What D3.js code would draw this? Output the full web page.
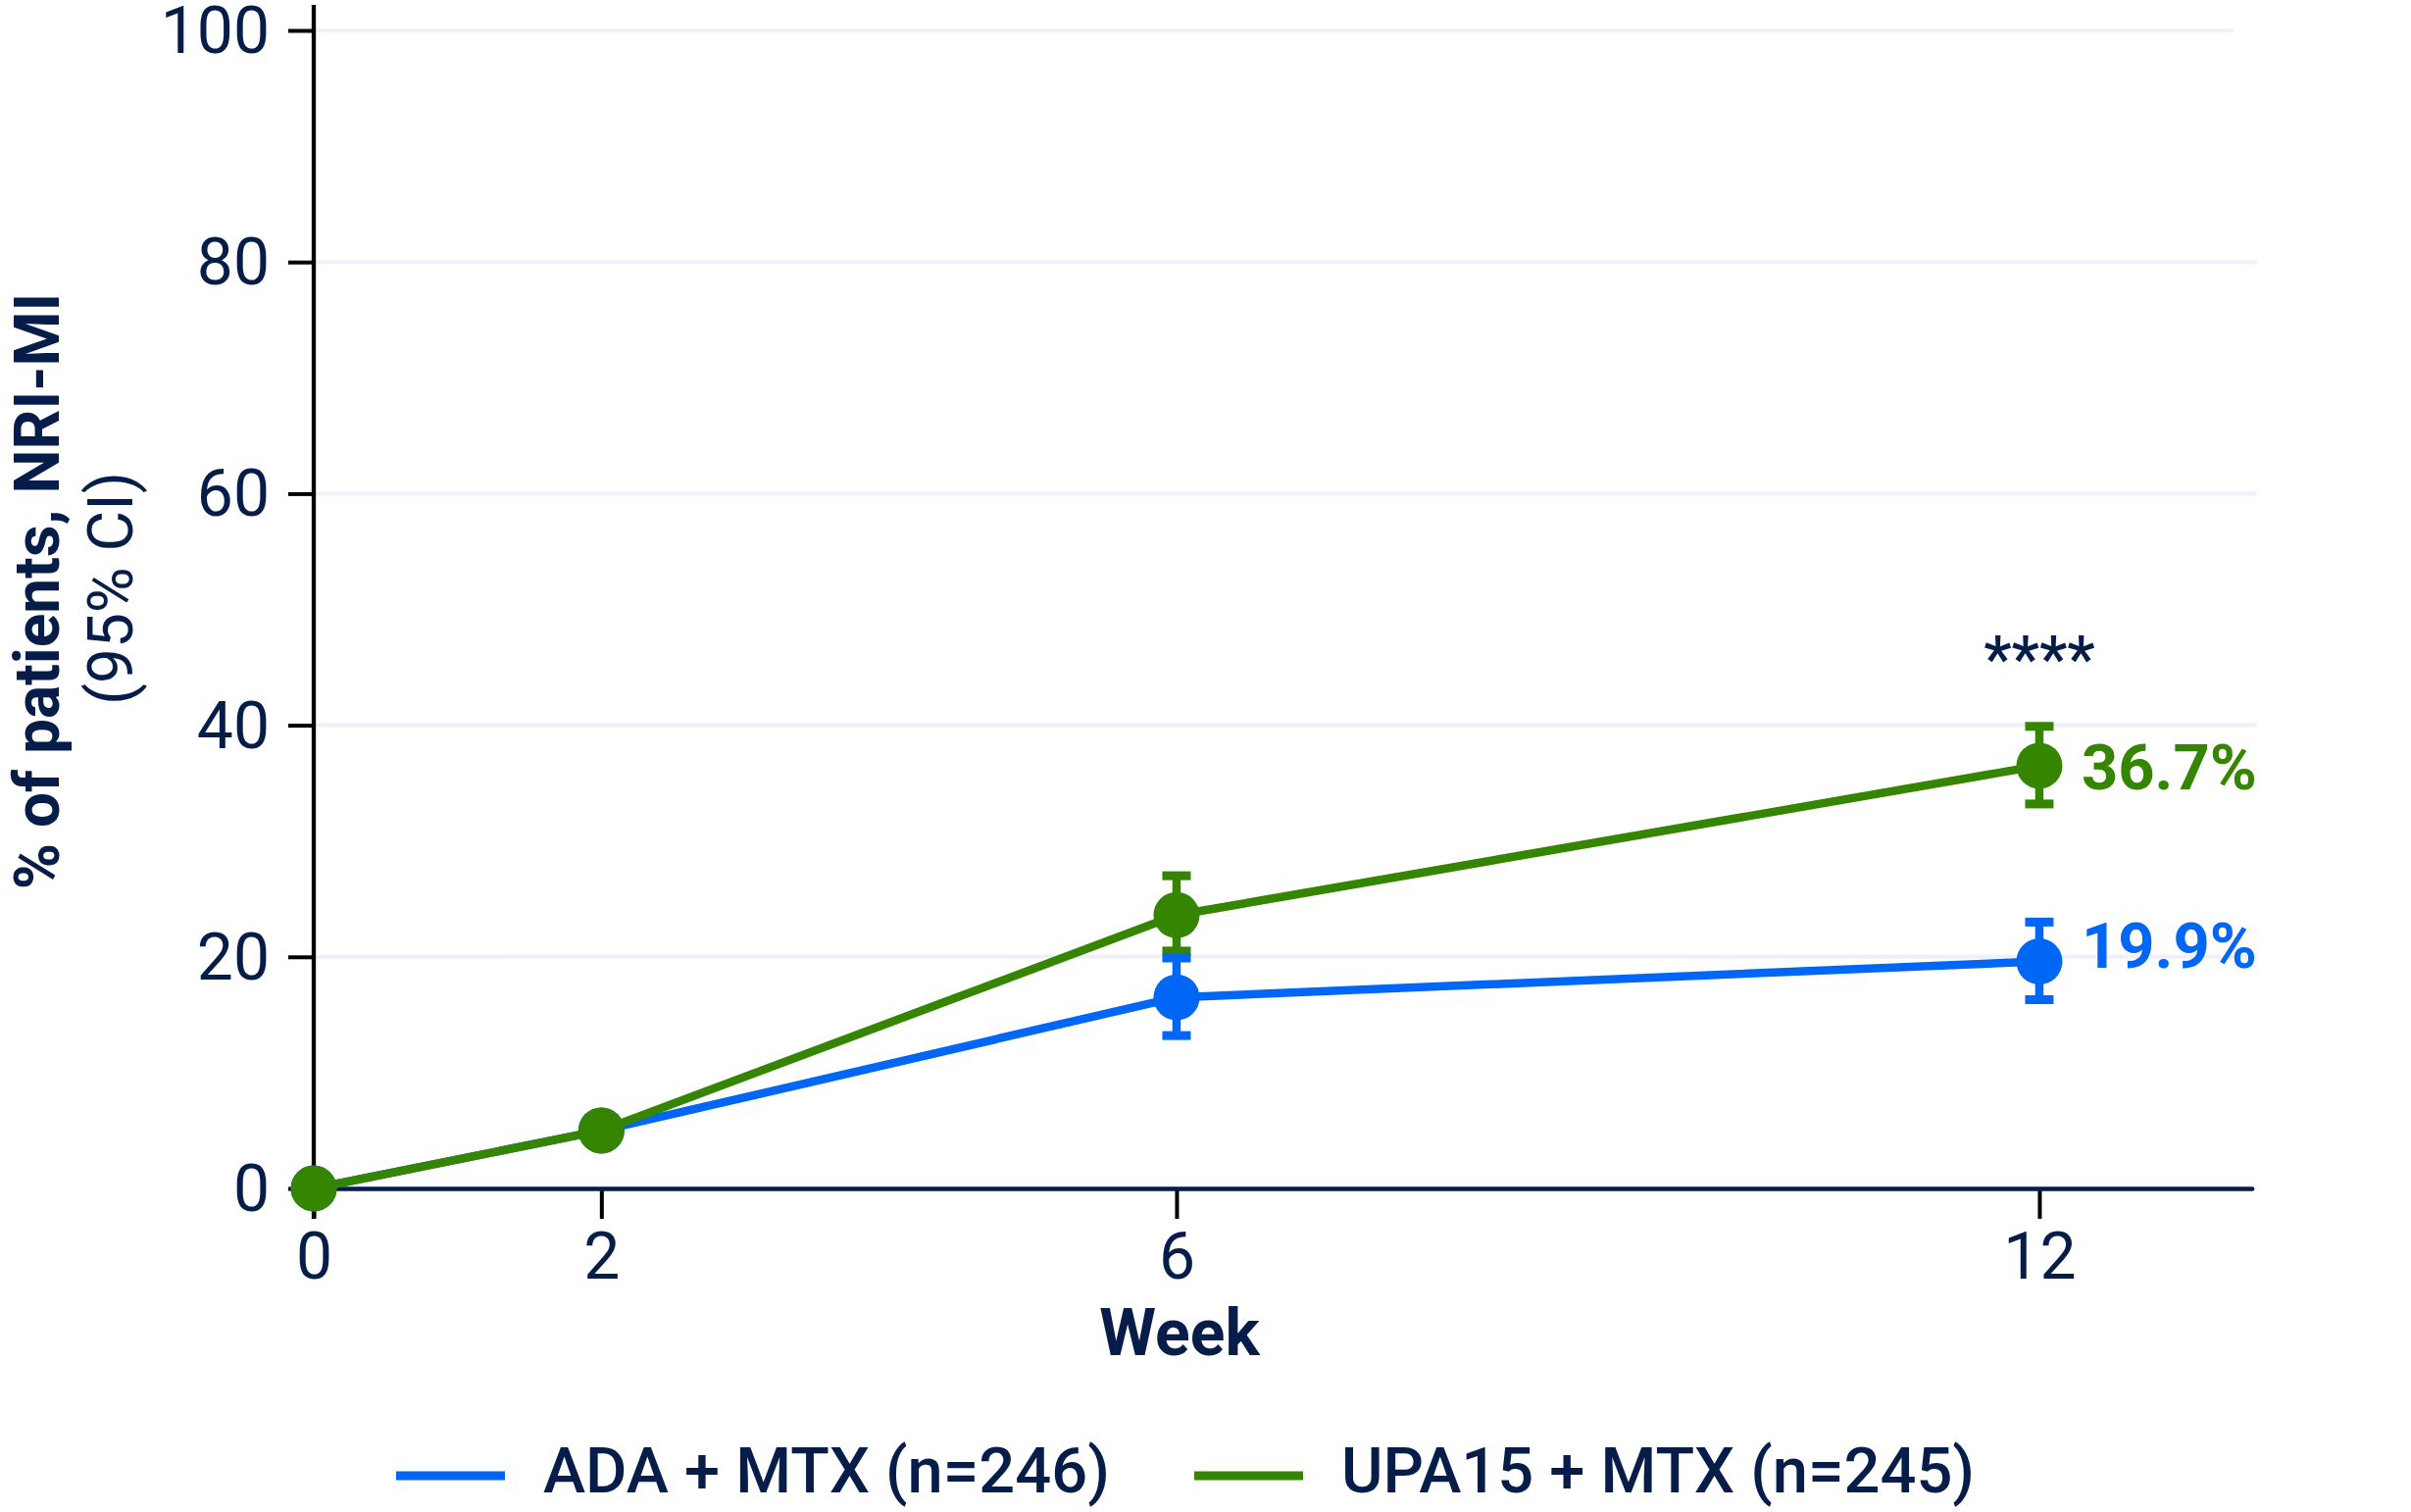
<!DOCTYPE html>
<html>
<head>
<meta charset="utf-8">
<script src="https://cdn.jsdelivr.net/npm/d3@7"></script>
<style>
    body { margin: 0; background: #fff; }
    text { font-family: Roboto, "Noto Sans", sans-serif; }
</style>
</head>
<body>
<div id="chart"></div>
<script>
// chart data
const weeks = [0, 2, 6, 12];
const xTicks = [0, 2, 6, 12];
const yTicks = [0, 20, 40, 60, 80, 100];

const seriesNames = ["ADA + MTX (n=246)", "UPA15 + MTX (n=245)"];
const adaValues = [0, 5.0, 16.5, 19.6];
const adaLower = [null, null, 13.2, 16.3];
const adaUpper = [null, null, 19.9, 23.0];
const upaValues = [0, 5.0, 23.6, 36.5];
const upaLower = [null, null, 20.5, 33.2];
const upaUpper = [null, null, 27.0, 39.9];
const endLabels = ["19.9%", "36.7%"];
const sigLabel = "****";

const navy = "#071D49";
const blue = "#0066F5";
const green = "#358500";

const width = 2459;
const height = 1542;

const svg = d3.select("#chart").append("svg")
    .attr("width", width)
    .attr("height", height);

const xScale = d3.scaleLinear()
    .domain([0, 13.48])
    .range([320, 2297]);

const yScale = d3.scaleLinear()
    .domain([0, 100])
    .range([1212, 31]);

// grid lines
svg.append("g")
    .selectAll("line")
    .data(yTicks.filter(d => d > 0))
    .enter()
    .append("line")
    .attr("x1", xScale(0))
    .attr("x2", d => d === 100 ? 2277 : 2300)
    .attr("y1", d => yScale(d))
    .attr("y2", d => yScale(d))
    .attr("stroke", "#EFF0FB")
    .attr("stroke-width", 4)
    .attr("stroke-linecap", "round");

// Y axis
const yAxis = svg.append("g")
    .attr("transform", `translate(${xScale(0)},0)`)
    .call(d3.axisLeft(yScale).tickValues(yTicks).tickSize(26).tickPadding(19).tickSizeOuter(0));
yAxis.select(".domain").remove();
yAxis.selectAll(".tick line").attr("stroke", "#000").attr("stroke-width", 4);
yAxis.selectAll(".tick text")
    .attr("fill", navy)
    .style("font-size", "66px")
    .attr("dy", "0.34em");
yAxis.append("line")
    .attr("x1", 0).attr("x2", 0)
    .attr("y1", 5).attr("y2", yScale(0) + 31)
    .attr("stroke", "#000")
    .attr("stroke-width", 4.3);

// X axis
const xAxis = svg.append("g")
    .attr("transform", `translate(0,${yScale(0)})`)
    .call(d3.axisBottom(xScale).tickValues(xTicks).tickSize(31).tickSizeOuter(0));
xAxis.select(".domain").remove();
xAxis.selectAll(".tick line").attr("stroke", "#000").attr("stroke-width", 4);
xAxis.selectAll(".tick text")
    .attr("fill", navy)
    .style("font-size", "66px")
    .attr("y", 92)
    .attr("dy", 0);
xAxis.append("line")
    .attr("x1", xScale(0))
    .attr("x2", xScale.range()[1])
    .attr("y1", 0.5).attr("y2", 0.5)
    .attr("stroke", navy)
    .attr("stroke-width", 4.7)
    .attr("stroke-linecap", "round");

// axis titles
svg.append("text")
    .attr("transform", "translate(60,603) rotate(-90)")
    .attr("text-anchor", "middle")
    .attr("fill", navy)
    .style("font-size", "64px")
    .style("font-weight", "bold")
    .text("% of patients, NRI-MI");
svg.append("text")
    .attr("transform", "translate(135,600) rotate(-90)")
    .attr("text-anchor", "middle")
    .attr("fill", navy)
    .style("font-size", "64px")
    .text("(95% CI)");
svg.append("text")
    .attr("x", 1203)
    .attr("y", 1382)
    .attr("text-anchor", "middle")
    .attr("fill", navy)
    .style("font-size", "66px")
    .style("font-weight", "bold")
    .text("Week");

// series
const makeSeries = (values, lower, upper) => weeks.map((w, i) => ({
    week: w, value: values[i], lower: lower[i], upper: upper[i]
}));
const series = [
    { name: seriesNames[0], color: blue, data: makeSeries(adaValues, adaLower, adaUpper), label: endLabels[0], labelDy: 6 },
    { name: seriesNames[1], color: green, data: makeSeries(upaValues, upaLower, upaUpper), label: endLabels[1], labelDy: 24 }
];

const line = d3.line()
    .x(d => xScale(d.week))
    .y(d => yScale(d.value));

svg.append("g")
    .selectAll("path")
    .data(series)
    .enter()
    .append("path")
    .attr("d", s => line(s.data))
    .attr("fill", "none")
    .attr("stroke", s => s.color)
    .attr("stroke-width", 8.5)
    .attr("stroke-linejoin", "round");

// error bars (green first, blue on top)
const errG = svg.append("g");
[series[1], series[0]].forEach(s => {
    const pts = s.data.filter(d => d.lower !== null);
    const g = errG.append("g");
    g.selectAll(".stem")
        .data(pts)
        .enter()
        .append("line")
        .attr("x1", d => xScale(d.week))
        .attr("x2", d => xScale(d.week))
        .attr("y1", d => yScale(d.lower))
        .attr("y2", d => yScale(d.upper))
        .attr("stroke", s.color)
        .attr("stroke-width", 8.5);
    g.selectAll(".capTop")
        .data(pts)
        .enter()
        .append("line")
        .attr("x1", d => xScale(d.week) - 14.5)
        .attr("x2", d => xScale(d.week) + 14.5)
        .attr("y1", d => yScale(d.upper))
        .attr("y2", d => yScale(d.upper))
        .attr("stroke", s.color)
        .attr("stroke-width", 9);
    g.selectAll(".capBottom")
        .data(pts)
        .enter()
        .append("line")
        .attr("x1", d => xScale(d.week) - 14.5)
        .attr("x2", d => xScale(d.week) + 14.5)
        .attr("y1", d => yScale(d.lower))
        .attr("y2", d => yScale(d.lower))
        .attr("stroke", s.color)
        .attr("stroke-width", 9);
});

// markers
series.forEach(s => {
    svg.append("g")
        .selectAll("circle")
        .data(s.data)
        .enter()
        .append("circle")
        .attr("cx", d => xScale(d.week))
        .attr("cy", d => yScale(d.value))
        .attr("r", 23.5)
        .attr("fill", s.color);
});

// end value labels
series.forEach(s => {
    const last = s.data[s.data.length - 1];
    svg.append("text")
        .attr("x", xScale(last.week) + 43)
        .attr("y", yScale(last.value) + s.labelDy)
        .attr("fill", s.color)
        .style("font-size", "65px")
        .style("font-weight", "bold")
        .text(s.label);
});

// significance
svg.append("text")
    .attr("x", xScale(12))
    .attr("y", 694)
    .attr("text-anchor", "middle")
    .attr("fill", navy)
    .style("font-size", "64px")
    .style("font-weight", 500)
    .text(sigLabel);

// legend
const legendPos = [404, 1218];
const legend = svg.append("g");
series.forEach((s, i) => {
    legend.append("line")
        .attr("x1", legendPos[i])
        .attr("x2", legendPos[i] + 111)
        .attr("y1", 1505)
        .attr("y2", 1505)
        .attr("stroke", s.color)
        .attr("stroke-width", 9);
    legend.append("text")
        .attr("x", legendPos[i] + 150)
        .attr("y", 1522)
        .attr("fill", navy)
        .style("font-size", "65px")
        .style("font-weight", 500)
        .text(s.name);
});
</script>
</body>
</html>
